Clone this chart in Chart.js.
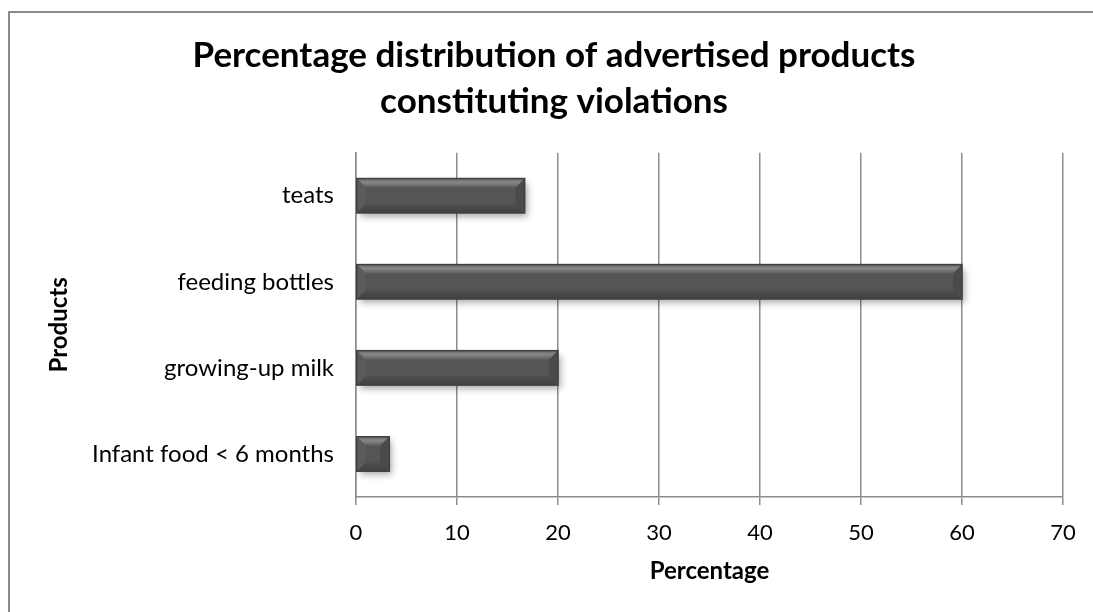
<!DOCTYPE html>
<html>
<head>
<meta charset="utf-8">
<title>Advertised products constituting violations</title>
<script src="https://cdn.jsdelivr.net/npm/chart.js@4.4.1/dist/chart.umd.min.js"></script>
<style>
  html, body { margin: 0; padding: 0; background: #fff; overflow: hidden; }
  #frame {
    position: absolute; left: 8px; top: 11px;
    width: 1200px; height: 700px;
    border-left: 2px solid #8a8a8a;
    border-top: 2px solid #8a8a8a;
  }
  #chart { position: absolute; left: 0; top: 0; }
</style>
</head>
<body>
<div id="frame"></div>
<canvas id="chart" width="1093" height="612"></canvas>
<script>
// data
const titleLines = ['Percentage distribution of advertised products', 'constituting violations'];
const categories = ['teats', 'feeding bottles', 'growing-up milk', 'Infant food < 6 months'];
const percentages = [16.7, 60, 20, 3.3];
const xMin = 0;
const xMax = 70;
const xStep = 10;

const FONT = 'Lato, "Open Sans", sans-serif';
const GRID = '#8c8c8c';

// soft drop shadow under the bars, then a bevel over each bar
const bevelPlugin = {
  id: 'bevel',
  beforeDatasetDraw(chart) {
    const ctx = chart.ctx;
    ctx.save();
    ctx.shadowColor = 'rgba(0,0,0,0.35)';
    ctx.shadowBlur = 7;
    ctx.shadowOffsetX = 3;
    ctx.shadowOffsetY = 4;
  },
  afterDatasetDraw(chart, args) {
    const ctx = chart.ctx;
    ctx.restore();
    args.meta.data.forEach(bar => {
      const p = bar.getProps(['x', 'y', 'base', 'height'], true);
      const x0 = Math.min(p.base, p.x), x1 = Math.max(p.base, p.x);
      const y0 = p.y - p.height / 2, y1 = p.y + p.height / 2;
      const b = Math.min(9, (x1 - x0) / 2, p.height / 2);

      const poly = (pts, fill) => {
        ctx.beginPath();
        ctx.moveTo(pts[0][0], pts[0][1]);
        for (let i = 1; i < pts.length; i++) ctx.lineTo(pts[i][0], pts[i][1]);
        ctx.closePath();
        ctx.fillStyle = fill;
        ctx.fill();
      };

      ctx.save();
      // top edge
      const gTop = ctx.createLinearGradient(0, y0, 0, y0 + b);
      gTop.addColorStop(0, '#6a6a6a');
      gTop.addColorStop(0.45, '#878787');
      gTop.addColorStop(1, '#5c5c5c');
      poly([[x0, y0], [x1, y0], [x1 - b, y0 + b], [x0 + b, y0 + b]], gTop);
      // bottom edge
      const gBot = ctx.createLinearGradient(0, y1 - b, 0, y1);
      gBot.addColorStop(0, '#505050');
      gBot.addColorStop(1, '#414141');
      poly([[x0, y1], [x1, y1], [x1 - b, y1 - b], [x0 + b, y1 - b]], gBot);
      // left edge
      poly([[x0, y0], [x0 + b, y0 + b], [x0 + b, y1 - b], [x0, y1]], '#5b5b5b');
      // right edge
      poly([[x1, y0], [x1 - b, y0 + b], [x1 - b, y1 - b], [x1, y1]], '#4a4a4a');
      // outline
      ctx.strokeStyle = '#404040';
      ctx.lineWidth = 1.5;
      ctx.strokeRect(x0, y0, x1 - x0, y1 - y0);
      ctx.restore();
    });
  }
};

new Chart(document.getElementById('chart'), {
  type: 'bar',
  data: {
    labels: categories,
    datasets: [{
      label: 'Percentage',
      data: percentages,
      backgroundColor: '#555555',
      borderWidth: 0,
      barPercentage: 0.4,
      categoryPercentage: 1
    }]
  },
  options: {
    indexAxis: 'y',
    responsive: false,
    animation: false,
    layout: { padding: { left: 45, right: 30, top: 0, bottom: 0 } },
    plugins: {
      legend: { display: false },
      tooltip: { enabled: false },
      title: {
        display: true,
        text: titleLines,
        color: '#000',
        font: { family: FONT, size: 35, weight: 'bold', lineHeight: 1.31 },
        padding: { top: 33, bottom: 28 }
      }
    },
    scales: {
      x: {
        min: xMin,
        max: xMax,
        ticks: {
          stepSize: xStep,
          color: '#000',
          font: { family: FONT, size: 22 },
          padding: 15
        },
        grid: { color: GRID, lineWidth: 1.5, tickLength: 8 },
        border: { color: GRID, width: 1.5 },
        title: {
          display: true,
          text: 'Percentage',
          color: '#000',
          font: { family: FONT, size: 24, weight: 'bold' },
          padding: { top: 0, bottom: 26 }
        },
        afterFit(scale) { scale.height = 115; }
      },
      y: {
        ticks: {
          color: '#000',
          font: { family: FONT, size: 24 },
          padding: 22
        },
        grid: { display: false, drawTicks: false },
        border: { display: true, color: GRID, width: 1.5 },
        title: {
          display: true,
          text: 'Products',
          color: '#000',
          font: { family: FONT, size: 24, weight: 'bold', lineHeight: 1 },
          padding: { top: 2, bottom: 0 }
        },
        afterFit(scale) { scale.width = 356 - 45; }
      }
    }
  },
  plugins: [bevelPlugin]
});
</script>
</body>
</html>
